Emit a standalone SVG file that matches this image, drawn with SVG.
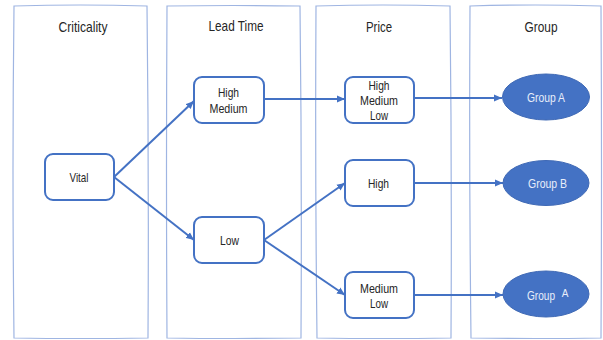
<svg xmlns="http://www.w3.org/2000/svg" width="603" height="340" viewBox="0 0 603 340">
<defs>
<style>
.col{fill:none;stroke:#9fb5e2;stroke-width:1.2}
.hdr{font-family:"Liberation Sans",Arial,sans-serif;font-size:15px;fill:#262626;text-anchor:middle}
.box{fill:#fff;stroke:#4472c4;stroke-width:2}
.txt{font-family:"Liberation Sans",Arial,sans-serif;font-size:13px;fill:#262626;text-anchor:middle}
.ell{fill:#4472c4;stroke:#3f69b5;stroke-width:1}
.wtxt{font-family:"Liberation Sans",Arial,sans-serif;font-size:13px;fill:#e8eefa;text-anchor:middle}
.edge{fill:none;stroke:#4472c4;stroke-width:2;marker-end:url(#ah)}
</style>
<marker id="ah" markerUnits="userSpaceOnUse" markerWidth="9" markerHeight="8" refX="8" refY="4" orient="auto">
<path d="M0,0.5 L8,4 L0,7.5 Z" fill="#4472c4"/>
</marker>
</defs>
<rect width="603" height="340" fill="#fff"/>
<g id="columns">
<path class="col" d="M14,6 Q80,4 147,6 Q149,170 148,338 Q80,339 14,338 Q12,170 14,6 Z"/>
<path class="col" d="M167,6 Q233,5 300,6 Q302,170 301,338 Q233,339 167,338 Q166,170 167,6 Z"/>
<path class="col" d="M316,6 Q383,4 450,6 Q452,170 451,338 Q383,339 317,338 Q315,170 316,6 Z"/>
<path class="col" d="M470,6 Q535,4 601,6 Q602,170 601,338 Q535,339 471,338 Q469,170 470,6 Z"/>
</g>
<g id="headers">
<text class="hdr" x="83" y="32" textLength="49" lengthAdjust="spacingAndGlyphs">Criticality</text>
<text class="hdr" x="236" y="31" textLength="55" lengthAdjust="spacingAndGlyphs">Lead Time</text>
<text class="hdr" x="379" y="32" textLength="26" lengthAdjust="spacingAndGlyphs">Price</text>
<text class="hdr" x="541" y="32" textLength="33" lengthAdjust="spacingAndGlyphs">Group</text>
</g>
<g id="connectors">
<path class="edge" d="M114,177 L194,101"/>
<path class="edge" d="M114,177 L194,240"/>
<path class="edge" d="M264,99 L345,99"/>
<path class="edge" d="M264,240 L345,183"/>
<path class="edge" d="M264,240 L345,295"/>
<path class="edge" d="M414,98 L502,98"/>
<path class="edge" d="M414,183 L503,183"/>
<path class="edge" d="M414,295 L503,295"/>
</g>
<g id="vital">
<rect class="box" x="45" y="154" width="69" height="46" rx="8"/>
<text class="txt" x="79" y="182" textLength="19" lengthAdjust="spacingAndGlyphs">Vital</text>
</g>
<g id="lt-high-medium">
<rect class="box" x="194" y="77" width="70" height="46" rx="8"/>
<text class="txt" x="228.5" y="97" textLength="21" lengthAdjust="spacingAndGlyphs">High</text>
<text class="txt" x="228.5" y="113" textLength="38" lengthAdjust="spacingAndGlyphs">Medium</text>
</g>
<g id="lt-low">
<rect class="box" x="194" y="217" width="70" height="46" rx="8"/>
<text class="txt" x="229.5" y="245" textLength="19" lengthAdjust="spacingAndGlyphs">Low</text>
</g>
<g id="pr-high-medium-low">
<rect class="box" x="345" y="77" width="69" height="46" rx="8"/>
<text class="txt" x="379" y="90" textLength="21" lengthAdjust="spacingAndGlyphs">High</text>
<text class="txt" x="379" y="105" textLength="38" lengthAdjust="spacingAndGlyphs">Medium</text>
<text class="txt" x="379" y="120" textLength="18" lengthAdjust="spacingAndGlyphs">Low</text>
</g>
<g id="pr-high">
<rect class="box" x="345" y="160" width="69" height="46" rx="8"/>
<text class="txt" x="378.5" y="188" textLength="21" lengthAdjust="spacingAndGlyphs">High</text>
</g>
<g id="pr-medium-low">
<rect class="box" x="345" y="272" width="69" height="46" rx="8"/>
<text class="txt" x="379" y="293" textLength="38" lengthAdjust="spacingAndGlyphs">Medium</text>
<text class="txt" x="379" y="308" textLength="18" lengthAdjust="spacingAndGlyphs">Low</text>
</g>
<g id="group-a-top">
<ellipse class="ell" cx="546" cy="97" rx="43.5" ry="23"/>
<text class="wtxt" x="546" y="102" textLength="38" lengthAdjust="spacingAndGlyphs">Group A</text>
</g>
<g id="group-b">
<ellipse class="ell" cx="546" cy="183" rx="43" ry="22.5"/>
<text class="wtxt" x="547.5" y="188" textLength="39" lengthAdjust="spacingAndGlyphs">Group B</text>
</g>
<g id="group-a-bottom">
<ellipse class="ell" cx="546" cy="294" rx="43" ry="23"/>
<text class="wtxt" x="541" y="300" textLength="28" lengthAdjust="spacingAndGlyphs">Group</text>
<text class="wtxt" x="565" y="297" style="font-size:10px">A</text>
</g>
</svg>
